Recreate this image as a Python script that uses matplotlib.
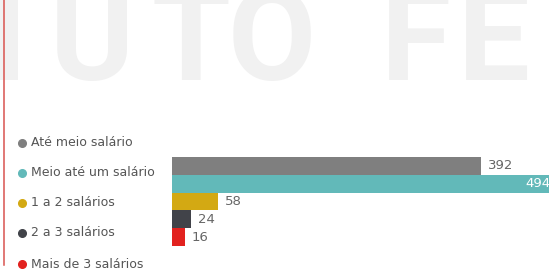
import matplotlib.pyplot as plt
from matplotlib.lines import Line2D

# data
categories = ['Até meio salário', 'Meio até um salário', '1 a 2 salários',
              '2 a 3 salários', 'Mais de 3 salários']
values = [392, 494, 58, 24, 16]
colors = ['#7f7f7f', '#62b9b9', '#d3a913', '#414349', '#e2221f']

W, H = 549, 272
fig = plt.figure(figsize=(W / 100, H / 100), dpi=100, facecolor='white')

def fx(px):
    return px / W

def fy(py):
    return 1 - py / H

# faint watermark letters, cut by the top edge
for letter, x in [('I', -10), ('U', 50), ('T', 152), ('O', 228), ('F', 381), ('E', 458)]:
    fig.text(fx(x), fy(80), letter, fontsize=92, color='#f1f1f1', fontweight='bold',
             family='Roboto', ha='left', va='baseline', zorder=0)

# red vertical rule on the left
fig.add_artist(Line2D([fx(4), fx(4)], [fy(0), fy(265)], color='#d9534f', lw=1.1))

# bars
ax = fig.add_axes([fx(172), fy(246), 1 - fx(172), (246 - 157) / H])
ax.set_facecolor('none')
ypos = list(range(len(values)))
ax.barh(ypos, values, height=1.0, color=colors, edgecolor='none')
ax.set_xlim(0, 478)
ax.set_ylim(len(values) - 0.5, -0.5)
ax.axis('off')

lab = dict(fontsize=9.5, family='DejaVu Sans', annotation_clip=False, va='center')
for i, v in enumerate(values):
    if v > 450:
        ax.annotate(str(v), (v, i), xytext=(-8, 0), textcoords='offset points',
                    ha='right', color='white', **lab)
    else:
        ax.annotate(str(v), (v, i), xytext=(5, 0), textcoords='offset points',
                    ha='left', color='#666666', **lab)

# legend on the left
legend_y = [143, 173, 203, 233, 264]
for cat, c, y in zip(categories, colors, legend_y):
    fig.add_artist(Line2D([fx(22)], [fy(y)], marker='o', markersize=5.5,
                          color=c, lw=0))
    fig.text(fx(31), fy(y), cat, fontsize=9, color='#555555', family='DejaVu Sans',
             ha='left', va='center')

fig.savefig('out.png', dpi=100, facecolor='white')
